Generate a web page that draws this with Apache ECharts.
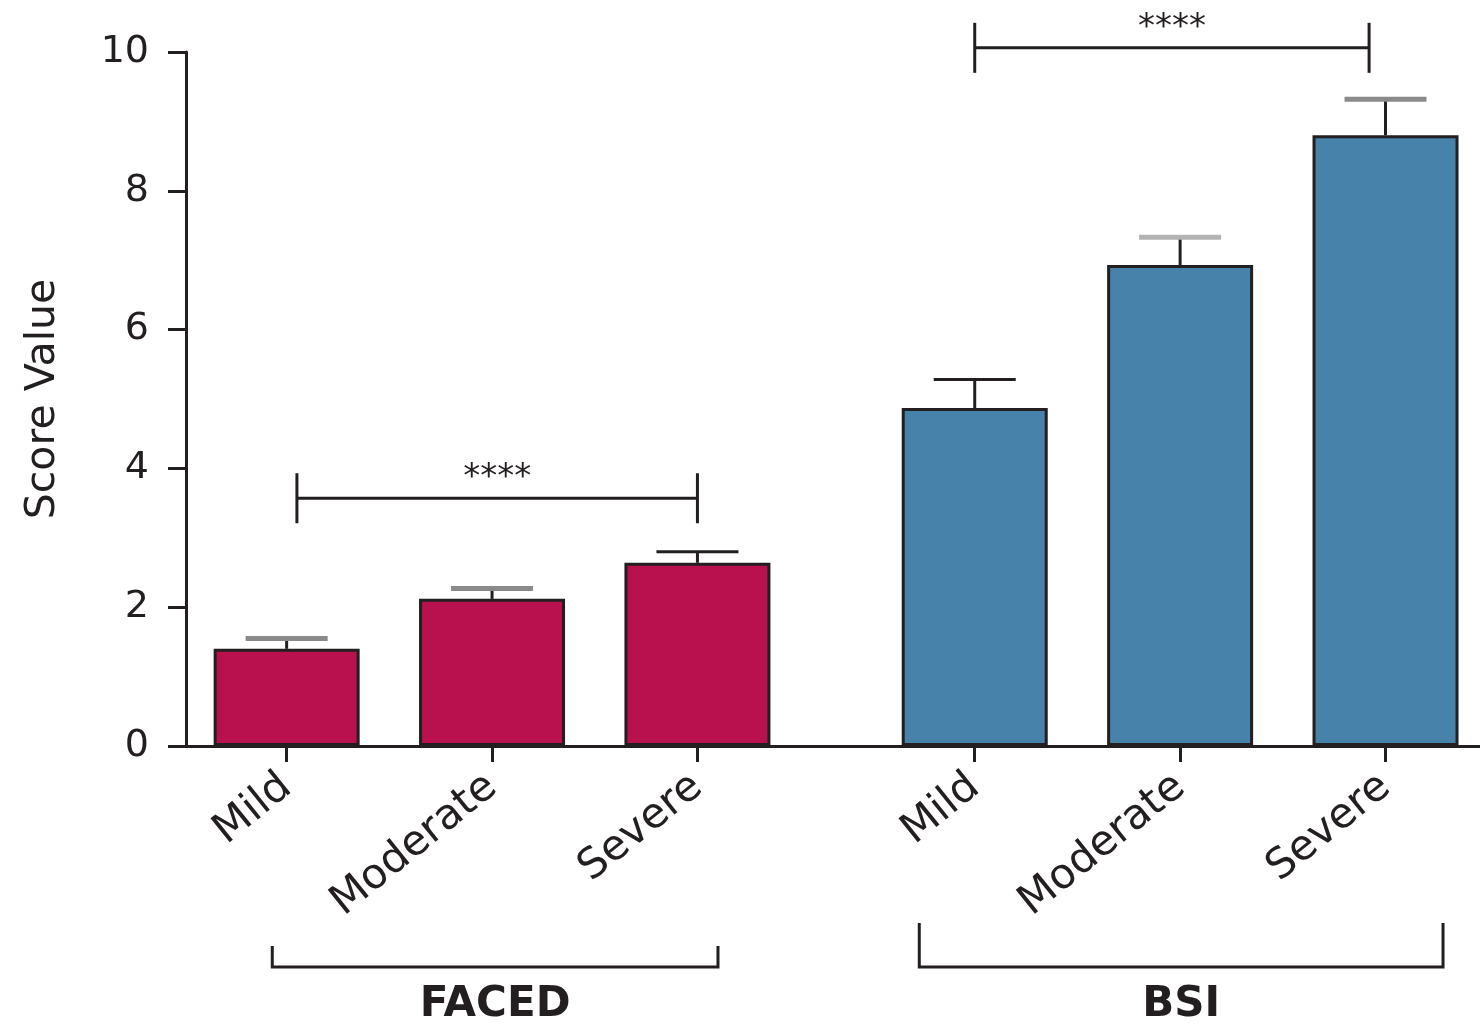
<!DOCTYPE html>
<html>
<head>
<meta charset="utf-8">
<script src="https://cdn.jsdelivr.net/npm/echarts@6/dist/echarts.min.js"></script>
<style>
html, body { margin: 0; padding: 0; background: #fff; }
#chart { width: 1480px; height: 1025px; }
</style>
</head>
<body>
<div id="chart"></div>
<script>
var levels = ['Mild', 'Moderate', 'Severe'];
var groups = ['FACED', 'BSI'];
var slots = [0, 1, 2, 3.35, 4.35, 5.35];
var facedMean = [1.40, 2.12, 2.64];
var facedErr = [0.15, 0.15, 0.16];
var bsiMean = [4.87, 6.93, 8.80];
var bsiErr = [0.41, 0.40, 0.52];
var yMin = 0, yMax = 10, yStep = 2;
// significance brackets: [from, to, height]
var sigPairs = [[0.05, 2, 3.57], [3.35, 5.27, 10.06]];
var sigLabel = '****';
// group brackets under the axis: [from, to]
var groupSpans = [[-0.07, 2.1], [3.08, 5.63]];

(function() {
    var ink = '#231f20';
    var font = '"DejaVu Sans", sans-serif';
    var capStyle = [['#8a8a8a', 5], ['#8a8a8a', 5], [ink, 3], [ink, 3], ['#b3b3b3', 5], ['#8a8a8a', 5]];
    var bracketRise = [21, 44];

    var myChart = echarts.init(document.getElementById('chart'));

    var facedData = [], bsiData = [], errData = [];
    for (var i = 0; i < 3; i++) {
        facedData.push([slots[i], facedMean[i]]);
        errData.push([slots[i], facedMean[i], facedMean[i] + facedErr[i]]);
    }
    for (var j = 0; j < 3; j++) {
        bsiData.push([slots[j + 3], bsiMean[j]]);
        errData.push([slots[j + 3], bsiMean[j], bsiMean[j] + bsiErr[j]]);
    }

    var option = {
        animation: false,
        grid: { left: 186, right: 0, top: 52, bottom: 279 },
        xAxis: {
            type: 'value',
            min: -0.49,
            max: 5.81,
            splitLine: { show: false },
            axisLine: { onZero: false, lineStyle: { color: ink, width: 3 } },
            axisTick: { customValues: slots, length: 16, lineStyle: { color: ink, width: 3 } },
            axisLabel: {
                customValues: slots,
                rotate: 39,
                margin: 36,
                fontSize: 42,
                fontFamily: font,
                color: ink,
                hideOverlap: false,
                formatter: function(v) {
                    var k = slots.indexOf(v);
                    return k < 0 ? '' : levels[k % 3];
                }
            }
        },
        yAxis: {
            type: 'value',
            min: yMin,
            max: yMax,
            interval: yStep,
            name: 'Score Value',
            nameLocation: 'middle',
            nameGap: 122,
            nameTextStyle: { fontSize: 41, fontFamily: font, color: ink },
            splitLine: { show: false },
            axisLine: { show: true, onZero: false, lineStyle: { color: ink, width: 3 } },
            axisTick: { show: true, length: 18, lineStyle: { color: ink, width: 3 } },
            axisLabel: { margin: 37, fontSize: 38, fontFamily: font, color: ink }
        },
        series: [{
            name: groups[0],
            type: 'bar',
            barWidth: 146,
            barGap: '-100%',
            data: facedData,
            itemStyle: { color: '#b8114e', borderColor: ink, borderWidth: 3 }
        }, {
            name: groups[1],
            type: 'bar',
            barWidth: 146,
            barGap: '-100%',
            data: bsiData,
            itemStyle: { color: '#4682a9', borderColor: ink, borderWidth: 3 }
        }, {
            type: 'custom',
            data: errData,
            encode: { x: 0, y: [1, 2] },
            z: 1,
            renderItem: function(params, api) {
                var base = api.coord([api.value(0), api.value(1)]);
                var top = api.coord([api.value(0), api.value(2)]);
                var cs = capStyle[params.dataIndex];
                return {
                    type: 'group',
                    children: [{
                        type: 'line',
                        shape: { x1: base[0], y1: base[1], x2: top[0], y2: top[1] },
                        style: { stroke: ink, lineWidth: 3 }
                    }, {
                        type: 'line',
                        shape: { x1: top[0] - 41, y1: top[1], x2: top[0] + 41, y2: top[1] },
                        style: { stroke: cs[0], lineWidth: cs[1] }
                    }]
                };
            }
        }, {
            type: 'custom',
            data: sigPairs,
            encode: { x: [0, 1], y: 2 },
            clip: false,
            renderItem: function(params, api) {
                var a = api.coord([api.value(0), api.value(2)]);
                var b = api.coord([api.value(1), api.value(2)]);
                return {
                    type: 'group',
                    children: [{
                        type: 'line',
                        shape: { x1: a[0], y1: a[1], x2: b[0], y2: b[1] },
                        style: { stroke: ink, lineWidth: 3 }
                    }, {
                        type: 'line',
                        shape: { x1: a[0], y1: a[1] - 25, x2: a[0], y2: a[1] + 25 },
                        style: { stroke: ink, lineWidth: 3 }
                    }, {
                        type: 'line',
                        shape: { x1: b[0], y1: b[1] - 25, x2: b[0], y2: b[1] + 25 },
                        style: { stroke: ink, lineWidth: 3 }
                    }, {
                        type: 'text',
                        style: {
                            x: (a[0] + b[0]) / 2, y: a[1] - 20,
                            text: sigLabel, fill: ink,
                            font: '34px ' + font,
                            align: 'center', verticalAlign: 'middle'
                        }
                    }]
                };
            }
        }, {
            type: 'custom',
            data: groupSpans.map(function(s) { return [s[0], s[1], 0]; }),
            encode: { x: [0, 1], y: 2 },
            clip: false,
            renderItem: function(params, api) {
                var a = api.coord([api.value(0), 0]);
                var b = api.coord([api.value(1), 0]);
                var y = a[1] + 221;
                var rise = bracketRise[params.dataIndex];
                return {
                    type: 'group',
                    children: [{
                        type: 'polyline',
                        shape: { points: [[a[0], y - rise], [a[0], y], [b[0], y], [b[0], y - rise]] },
                        style: { stroke: ink, lineWidth: 3, fill: null }
                    }, {
                        type: 'text',
                        style: {
                            x: (a[0] + b[0]) / 2, y: y + 38,
                            text: groups[params.dataIndex], fill: ink,
                            font: 'bold 42px ' + font,
                            align: 'center', verticalAlign: 'middle'
                        }
                    }]
                };
            }
        }]
    };

    myChart.setOption(option);
})();
</script>
</body>
</html>
